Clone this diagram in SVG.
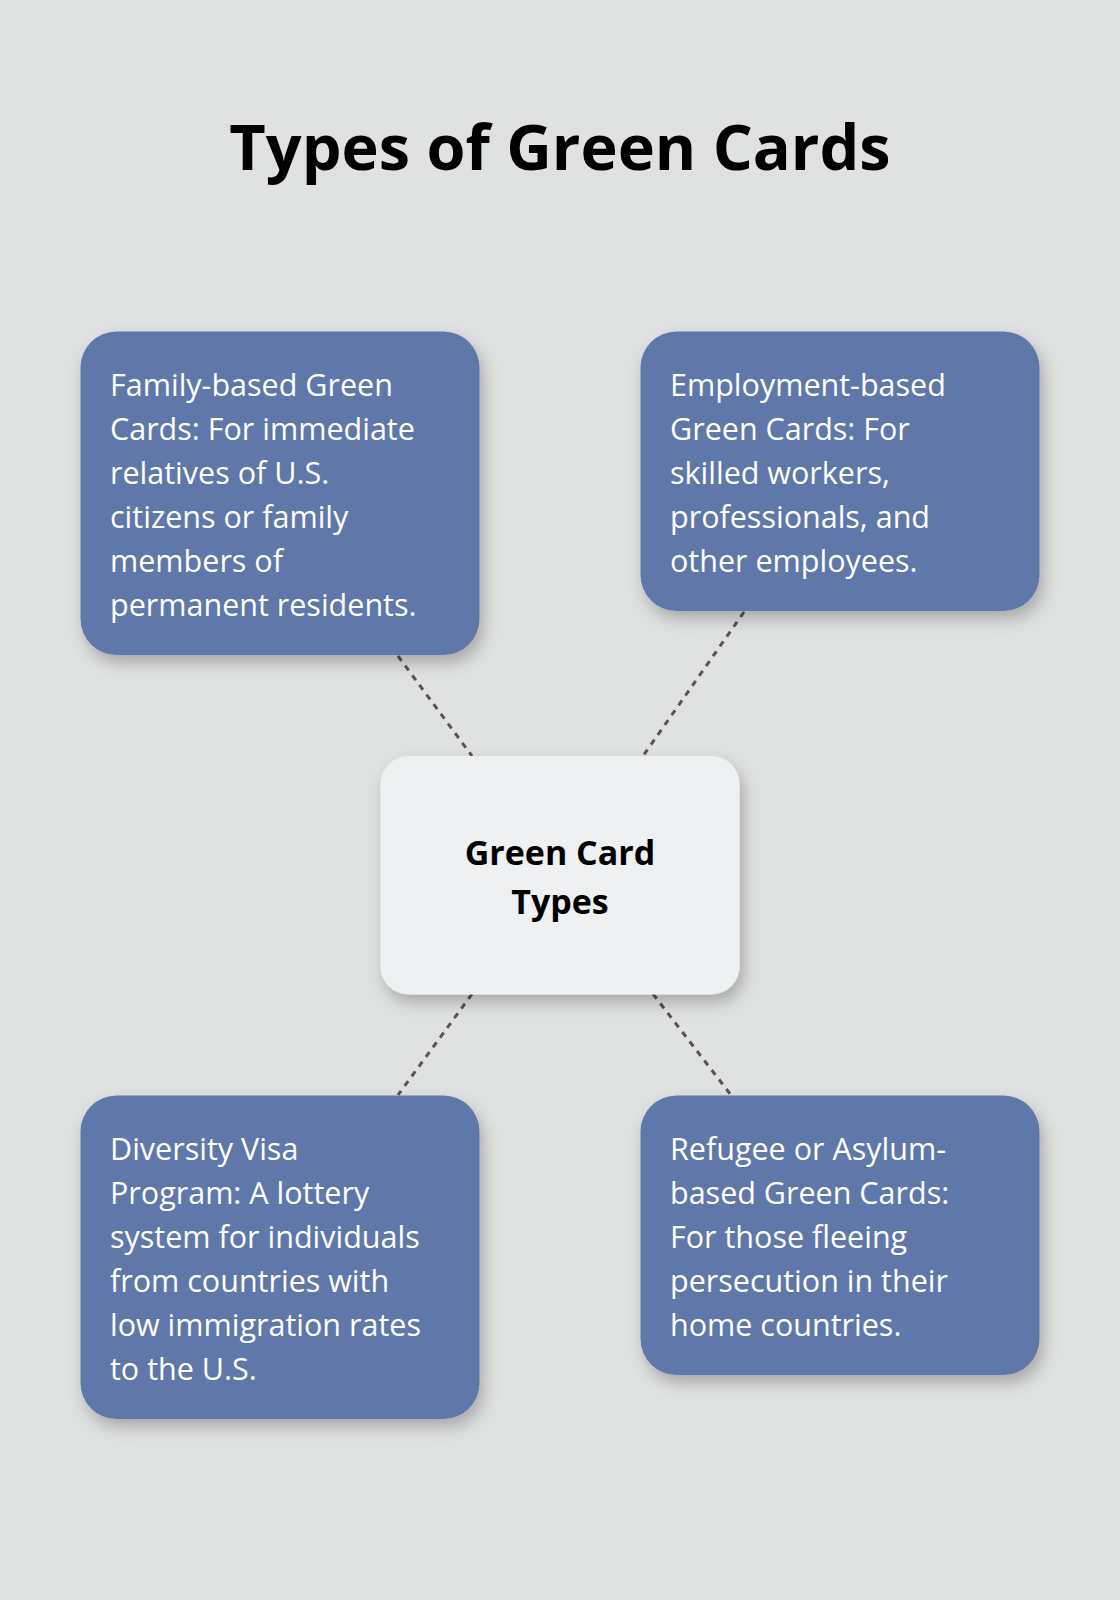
<svg xmlns="http://www.w3.org/2000/svg" width="1120" height="1600" viewBox="0 0 1120 1600">
<style>
.b{fill:#5e78a9;filter:url(#sh)}
.t{font-family:"Open Sans","Noto Sans",sans-serif;font-size:30.5px;fill:#fff}
.c{font-family:"Open Sans","Noto Sans",sans-serif;font-size:34px;font-weight:bold;fill:#000;text-anchor:middle}
.l{stroke:#555;stroke-width:3;stroke-dasharray:6 6;fill:none}
</style>
<defs><filter id="sh" x="-20%" y="-20%" width="140%" height="140%"><feDropShadow dx="4" dy="8" stdDeviation="8" flood-color="#000" flood-opacity="0.25"/></filter></defs>
<rect width="1120" height="1600" fill="#e0e2e1"/>
<text x="560" y="170" font-family="Open Sans,Noto Sans,sans-serif" font-size="63" font-weight="bold" text-anchor="middle" fill="#000">Types of Green Cards</text>
<g id="connectors">
<line class="l" x1="398" y1="656" x2="472" y2="756"/>
<line class="l" x1="744" y1="612" x2="643" y2="756"/>
<line class="l" x1="472" y1="994" x2="398" y2="1095"/>
<line class="l" x1="653" y1="994" x2="731" y2="1095"/>
</g>
<g id="center"><rect x="380.5" y="756" width="359" height="238.5" rx="28" fill="#eff0f2" filter="url(#sh)"/>
<text class="c" x="560" y="865">Green Card</text><text class="c" x="560" y="914">Types</text></g>
<g id="family"><rect class="b" x="80.5" y="331.5" width="399" height="323.5" rx="36"/>
<text class="t" x="110" y="396"><tspan x="110">Family-based Green</tspan><tspan x="110" dy="44">Cards: For immediate</tspan><tspan x="110" dy="44">relatives of U.S.</tspan><tspan x="110" dy="44">citizens or family</tspan><tspan x="110" dy="44">members of</tspan><tspan x="110" dy="44">permanent residents.</tspan></text></g>
<g id="employment"><rect class="b" x="640.5" y="331.5" width="399" height="279.5" rx="36"/>
<text class="t" x="670" y="396"><tspan x="670">Employment-based</tspan><tspan x="670" dy="44">Green Cards: For</tspan><tspan x="670" dy="44">skilled workers,</tspan><tspan x="670" dy="44">professionals, and</tspan><tspan x="670" dy="44">other employees.</tspan></text></g>
<g id="diversity"><rect class="b" x="80.5" y="1095.5" width="399" height="323.5" rx="36"/>
<text class="t" x="110" y="1160"><tspan x="110">Diversity Visa</tspan><tspan x="110" dy="44">Program: A lottery</tspan><tspan x="110" dy="44">system for individuals</tspan><tspan x="110" dy="44">from countries with</tspan><tspan x="110" dy="44">low immigration rates</tspan><tspan x="110" dy="44">to the U.S.</tspan></text></g>
<g id="refugee"><rect class="b" x="640.5" y="1095.5" width="399" height="279.5" rx="36"/>
<text class="t" x="670" y="1160"><tspan x="670">Refugee or Asylum-</tspan><tspan x="670" dy="44">based Green Cards:</tspan><tspan x="670" dy="44">For those fleeing</tspan><tspan x="670" dy="44">persecution in their</tspan><tspan x="670" dy="44">home countries.</tspan></text></g>
</svg>
